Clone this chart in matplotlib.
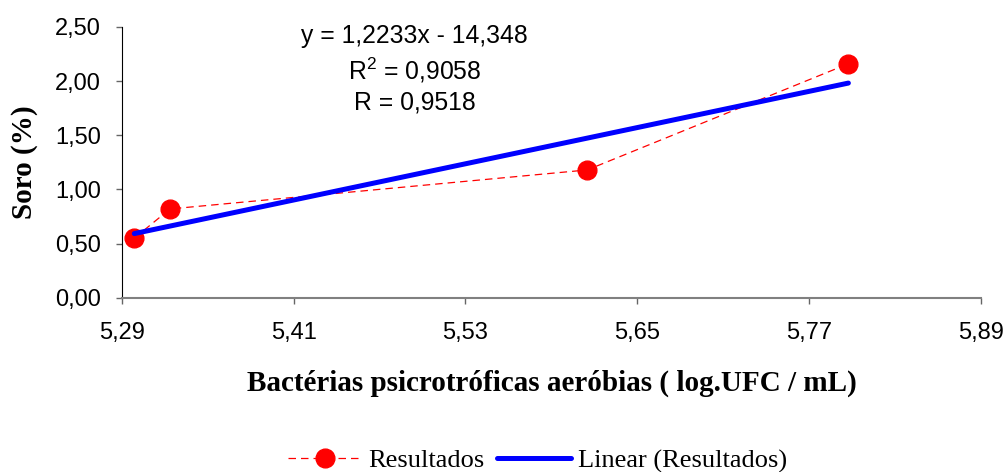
import numpy as np
import matplotlib.pyplot as plt

# data
bacterias = np.array([5.2986, 5.3235, 5.615, 5.7975])
soro = np.array([0.55, 0.82, 1.18, 2.16])
xticks = [5.29, 5.41, 5.53, 5.65, 5.77, 5.89]
yticks = [0.0, 0.5, 1.0, 1.5, 2.0, 2.5]

fig = plt.figure(figsize=(10.08, 4.72), dpi=100)
ax = fig.add_axes([0.121, 0.369, 0.852, 0.574])

ax.plot(bacterias, soro, color='red', ls=(0, (6, 4)), lw=0.9,
        marker='o', ms=13.5, mec='red', mfc='red', label='Resultados')

# linear trend
coef = np.polyfit(bacterias, soro, 1)
xt = np.array([bacterias.min(), bacterias.max()])
ax.plot(xt, np.polyval(coef, xt), color='#0000ff', lw=3.6, solid_capstyle='round',
        label='Linear (Resultados)')

ax.set_xlim(5.29, 5.89)
ax.set_ylim(0, 2.5)
ax.set_xticks(xticks)
ax.set_yticks(yticks)
ax.set_xticklabels([f"{v:.2f}".replace('.', ',') for v in xticks], fontsize=17, family='Liberation Sans')
ax.set_yticklabels([f"{v:.2f}".replace('.', ',') for v in yticks], fontsize=17, family='Liberation Sans')
ax.tick_params(direction='out', length=4.5, width=1, color='#666666')
ax.tick_params(axis='x', pad=13)
ax.tick_params(axis='y', pad=10.5)
ax.spines['top'].set_visible(False)
ax.spines['right'].set_visible(False)
ax.spines['bottom'].set_color('#808080')
ax.spines['bottom'].set_linewidth(1.5)
ax.spines['left'].set_color('black')

ax.set_xlabel('Bactérias psicrotróficas aeróbias ( log.UFC / mL)', fontsize=21,
              fontweight='bold', family='Liberation Serif')
ax.set_ylabel('Soro (%)', fontsize=21, fontweight='bold', family='Liberation Serif')
ax.xaxis.set_label_coords(0.5, -0.315)
ax.xaxis.label.set_va('center')
ax.yaxis.set_label_coords(-0.113, 0.5)
ax.yaxis.label.set_va('center')

ax.text(0.341, 1.01, 'y = 1,2233x - 14,348\n$\\mathregular{R^2}$ = 0,9058\nR = 0,9518',
        transform=ax.transAxes, ha='center', va='top', fontsize=17.8,
        family='Liberation Sans', linespacing=1.3)

leg = fig.legend(loc='center', bbox_to_anchor=(0.533, 0.024), ncol=2, frameon=False,
                 prop={'family': 'Liberation Serif', 'size': 19}, handlelength=2.8,
                 handletextpad=0.27, columnspacing=0.45)

fig.savefig('out.png', dpi=100)
